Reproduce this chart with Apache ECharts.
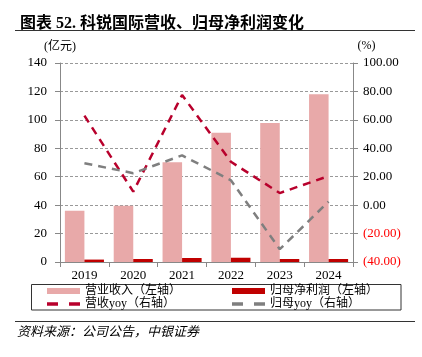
<!DOCTYPE html>
<html>
<head>
<meta charset="utf-8">
<script src="https://cdn.jsdelivr.net/npm/echarts@6/dist/echarts.min.js"></script>
<style>
html,body{margin:0;padding:0;background:#fff;}
#chart{width:422px;height:357px;}
</style>
</head>
<body>
<div id="chart"></div>
<script>
var years = ['2019', '2020', '2021', '2022', '2023', '2024'];
var revenue = [36.0, 39.6, 70.1, 91.0, 97.8, 118.0];
var profit = [1.7, 2.1, 2.8, 3.0, 2.1, 2.1];
var revenueYoy = [63.0, 9.5, 77.5, 30.5, 8.5, 20.5];
var profitYoy = [29.5, 22.5, 35.0, 17.5, -31.0, 2.5];
var leftTicks = [0, 140, 20];
var rightTicks = [-40, 100, 20];

var serif = '"Liberation Serif", "Noto Sans CJK SC", serif';
var dashIcon = 'path://M0,0H10V3H0Z M20,0H30V3H20Z';
var chart = echarts.init(document.getElementById('chart'), null, {renderer: 'canvas'});
var legendText = {fontFamily: serif, fontSize: 12, lineHeight: 12, color: '#000'};
var option = {
  backgroundColor: '#fff',
  animation: false,
  title: {
    text: '图表 52. 科锐国际营收、归母净利润变化',
    left: 15, top: 11,
    textStyle: {fontFamily: serif, fontSize: 16, fontWeight: 'bold', color: '#000'}
  },
  grid: {left: 60, right: 69, top: 63, bottom: 95, containLabel: false},
  legend: [
    {
      orient: 'vertical', left: 47, top: 285, itemWidth: 33, itemHeight: 6, itemGap: 1,
      padding: 0, symbolKeepAspect: true,
      textStyle: legendText,
      data: [{name: '营业收入（左轴）', icon: 'rect'}, {name: '营收yoy（右轴）', icon: dashIcon}]
    },
    {
      orient: 'vertical', left: 232, top: 285, itemWidth: 33, itemHeight: 6, itemGap: 1,
      padding: 0, symbolKeepAspect: true,
      textStyle: legendText,
      data: [{name: '归母净利润（左轴）', icon: 'rect'}, {name: '归母yoy（右轴）', icon: dashIcon}]
    }
  ],
  xAxis: {
    type: 'category',
    data: years,
    axisLine: {lineStyle: {color: '#888', width: 1}},
    axisTick: {show: true, alignWithLabel: false, length: 5, lineStyle: {color: '#888'}},
    axisLabel: {fontFamily: serif, fontSize: 13, color: '#000', margin: 7}
  },
  yAxis: [
    {
      type: 'value', min: leftTicks[0], max: leftTicks[1], interval: leftTicks[2],
      name: '(亿元)', nameLocation: 'end', nameGap: 10,
      nameTextStyle: {fontFamily: serif, fontSize: 12, color: '#000'},
      axisLine: {show: true, lineStyle: {color: '#888'}},
      axisTick: {show: true, length: 5, lineStyle: {color: '#888'}},
      axisLabel: {fontFamily: serif, fontSize: 13, color: '#000', margin: 13},
      splitLine: {show: true, lineStyle: {color: '#999', type: [3, 2], width: 1}}
    },
    {
      type: 'value', min: rightTicks[0], max: rightTicks[1], interval: rightTicks[2],
      name: '(%)', nameLocation: 'end', nameGap: 11,
      nameTextStyle: {fontFamily: serif, fontSize: 12, color: '#000', padding: [0, 0, 0, 27]},
      axisLine: {show: true, lineStyle: {color: '#888'}},
      axisTick: {show: true, length: 5, lineStyle: {color: '#888'}},
      axisLabel: {
        fontFamily: serif, fontSize: 13, margin: 10,
        color: function (v) { return Number(v) < 0 ? '#FF0000' : '#000'; },
        formatter: function (v) { return v < 0 ? '(' + Math.abs(v).toFixed(2) + ')' : v.toFixed(2); }
      },
      splitLine: {show: false}
    }
  ],
  series: [
    {
      name: '营业收入（左轴）', type: 'bar', yAxisIndex: 0, data: revenue,
      barGap: '0%', barCategoryGap: '20%',
      itemStyle: {color: '#E8A9A9'}
    },
    {
      name: '归母净利润（左轴）', type: 'bar', yAxisIndex: 0, data: profit,
      barGap: '0%', barCategoryGap: '20%',
      itemStyle: {color: '#C00000'}
    },
    {
      name: '营收yoy（右轴）', type: 'line', yAxisIndex: 1, data: revenueYoy,
      symbol: 'none', z: 5,
      itemStyle: {color: '#B8002C'},
      lineStyle: {color: '#B8002C', width: 2.5, type: [8, 6]}
    },
    {
      name: '归母yoy（右轴）', type: 'line', yAxisIndex: 1, data: profitYoy,
      symbol: 'none', z: 5,
      itemStyle: {color: '#7F7F7F'},
      lineStyle: {color: '#7F7F7F', width: 2.5, type: [8, 6]}
    }
  ],
  graphic: [
    {type: 'line', shape: {x1: 15, y1: 30.5, x2: 415, y2: 30.5}, style: {stroke: '#333', lineWidth: 1}},
    {type: 'rect', shape: {x: 31.5, y: 284.5, width: 369.5, height: 25.5}, style: {fill: 'none', stroke: '#333', lineWidth: 1}},
    {type: 'line', shape: {x1: 15, y1: 321.5, x2: 415, y2: 321.5}, style: {stroke: '#333', lineWidth: 1}},
    {type: 'text', left: 17, top: 325, style: {text: '资料来源：公司公告，中银证券', font: 'italic 13px "Noto Sans CJK SC"', fill: '#000'}}
  ]
};
chart.setOption(option);
</script>
</body>
</html>
